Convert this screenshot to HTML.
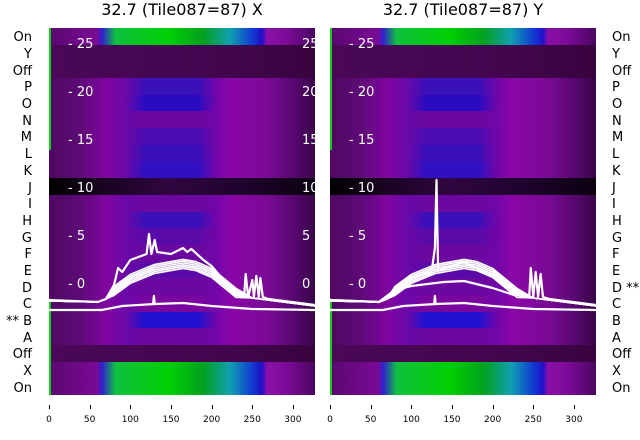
<!DOCTYPE html>
<html><head><meta charset="utf-8"><style>
body{margin:0;width:640px;height:440px;background:#fff;font-family:"DejaVu Sans","Liberation Sans",sans-serif;overflow:hidden;position:relative}
.t{position:absolute;top:0;font-size:16px;color:#000;width:280px;text-align:center}
.p{position:absolute;top:28px;height:367px;width:266px;overflow:hidden}
.r{position:absolute;left:0;width:266px}
.lab{position:absolute;font-size:13px;color:#000;line-height:14px}
.tk{position:absolute;font-size:13px;color:#fff}
.xt{position:absolute;top:415px;font-size:9px;color:#000;width:30px;text-align:center}
.xm{position:absolute;top:405px;width:1px;height:4px;background:#000}
svg{position:absolute;left:0;top:0}
</style></head><body>
<div class="t" style="left:42px">32.7 (Tile087=87) X</div>
<div class="t" style="left:323px">32.7 (Tile087=87) Y</div>
<div class="p" id="pl" style="left:49px"></div>
<div class="p" id="pr" style="left:330px"></div>
<div id="labs"></div>
<svg width="640" height="440" id="sv"></svg>
<script>
var names=["On","Y","Off","P","O","N","M","L","K","J","I","H","G","F","E","D","C","B","A","Off","X","On"];
var rh=367/22;
var mids={
 "P":"#3a10b8","O":"#2a0cc0","N":"#6a08a0","M":"#4a0cb0","L":"#3a10b8","K":"#3010c0","I":"#6a08a0","H":"#3a10b8","G":"#5a0aa8","F":"#6a08a0","E":"#5a0aa8","D":"#6a08a0","C":"#7a06a0","B":"#2010d0","A":"#6a08a0"};
function grad(n){
 if(n=="On"||n=="X") return "linear-gradient(90deg,#5a0870 0%,#7a0a95 18%,#3020d0 20%,#10c040 25%,#00d000 45%,#00a020 58%,#10a0b0 68%,#1040d0 76%,#2010c8 80%,#8a10a8 82%,#7a0a95 90%,#4a0660 100%)";
 if(n=="Y"||n=="Off") return "linear-gradient(90deg,#4a0858 0%,#44064f 60%,#38043f 100%)";
 if(n=="J") return "linear-gradient(90deg,#000 0%,#180320 20%,#300640 45%,#200330 70%,#0c0110 100%)";
 var m=mids[n]||"#4a0cb0";
 return "linear-gradient(90deg,#4e0862 0%,#5e0a78 12%,#8005a0 22%,#6a08a8 29%,"+m+" 36%,"+m+" 56%,#7206a8 63%,#8a05a8 68%,#7a0a95 82%,#560870 92%,#3a0548 100%)";
}
["pl","pr"].forEach(function(id,k){
 var p=document.getElementById(id),h="";
 names.forEach(function(n,i){h+='<div class="r" style="top:'+(i*rh).toFixed(1)+'px;height:'+(rh+0.6).toFixed(1)+'px;background:'+grad(n)+'"></div>';});
 h+='<div style="position:absolute;left:0;top:0;width:2px;height:122px;background:#10d010"></div><div style="position:absolute;left:0;top:272px;width:2px;height:95px;background:#10d010"></div>';
 p.innerHTML=h;
});
var L="";
names.forEach(function(n,i){
 var y=28+i*rh+rh/2-5;
 var ln=n, rn=n;
 if(n=="B")ln="** B"; if(n=="D")rn="D **";
 L+='<div class="lab" style="top:'+y.toFixed(1)+'px;right:'+(640-32)+'px;text-align:right">'+ln+'</div>';
 L+='<div class="lab" style="top:'+y.toFixed(1)+'px;left:612px">'+rn+'</div>';
});
[25,20,15,10,5,0].forEach(function(v){
 var y=284-v*9.6-7;
 L+='<div class="tk" style="top:'+y+'px;left:68px">- '+v+'</div>';
 L+='<div class="tk" style="top:'+y+'px;left:349px">- '+v+'</div>';
 L+='<div class="tk" style="top:'+y+'px;left:302px;width:13px;overflow:hidden">'+v+'</div>';
});
[0,50,100,150,200,250,300].forEach(function(v){
 [49,330].forEach(function(o){var x=o+v*0.813;
 L+='<div class="xm" style="left:'+x+'px"></div><div class="xt" style="left:'+(x-15)+'px">'+v+'</div>';});
});
document.getElementById("labs").innerHTML=L;
function path(o,pts){return pts.map(function(p,i){return (i?"L":"M")+(o+p[0]*0.813).toFixed(1)+","+p[1];}).join(" ");}
var base=[[0,301],[60,302],[70,299],[80,290],[100,278],[130,268],[165,263],[180,265],[200,272],[215,282],[230,292],[250,298],[327,306]];
var up=[[0,300],[60,302],[70,299],[80,285],[85,268],[90,272],[100,260],[120,254],[123,234],[126,254],[130,240],[133,252],[150,254],[160,250],[165,248],[170,252],[175,249],[190,260],[200,266],[230,295],[240,297],[242,274],[245,297],[250,280],[252,297],[255,276],[258,297],[260,278],[263,297],[270,299],[327,305]];
var low=[[0,310],[65,310],[90,306],[130,304],[165,303],[200,306],[250,309],[327,310]];
var S="";
[0,1].forEach(function(k){
 var o=k?330:49,cl='<clipPath id="c'+k+'"><rect x="'+o+'" y="28" width="266" height="367"/></clipPath>';
 S+=cl+'<g clip-path="url(#c'+k+')" fill="none" stroke="#fff" stroke-width="2.2" stroke-linejoin="round">';
 for(var j=0;j<6;j++){S+='<path stroke-width="1.6" d="'+path(o,base.map(function(p){return [p[0],p[1]+(p[1]<298?(j-2)*1.8:0)];}))+'"/>';}
 if(k==0) S+='<path d="'+path(o,up)+'"/>';
 else S+='<path d="'+path(o,[[0,300],[60,302],[70,299],[80,288],[100,278],[125,272],[129,248],[131,180],[133,270],[150,266],[165,262],[175,266],[210,280],[230,292],[245,297],[247,268],[250,297],[253,272],[256,297],[259,274],[262,297],[270,299],[327,305]])+'"/><path d="'+path(o,[[0,300],[60,302],[80,290],[100,286],[140,282],[165,281],[200,288],[230,296]])+'"/>';
 S+='<path d="'+path(o,low)+'"/><path d="'+path(o,[[128,304],[129,296],[130,304]])+'"/></g>';
});
document.getElementById("sv").innerHTML=S;
</script>
</body></html>
